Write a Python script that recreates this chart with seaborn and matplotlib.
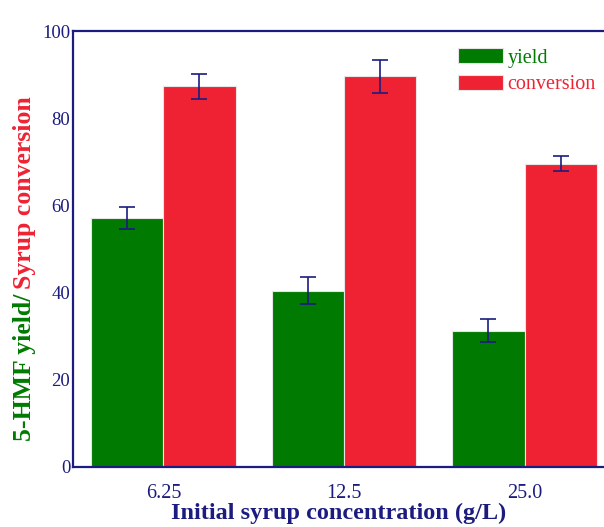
import matplotlib
matplotlib.use("Agg")
import matplotlib.pyplot as plt
import pandas as pd
import seaborn as sns

# values
concentrations = ["6.25", "12.5", "25.0"]
yield_vals = [57.1, 40.4, 31.3]
yield_err = [2.6, 3.1, 2.6]
conversion_vals = [87.3, 89.6, 69.6]
conversion_err = [2.9, 3.7, 1.8]

navy = "#1c1c80"
green = "#007a00"
red = "#ee2233"

df = pd.DataFrame({
    "conc": concentrations * 2,
    "value": yield_vals + conversion_vals,
    "err": yield_err + conversion_err,
    "kind": ["yield"] * 3 + ["conversion"] * 3,
})

sns.set_style("white")
plt.rcParams["font.family"] = ["Liberation Serif", "DejaVu Serif"]

fig = plt.figure(figsize=(6.04, 5.27), dpi=100)
ax = fig.add_axes([0.121, 0.114, 0.879, 0.827])

sns.barplot(data=df, x="conc", y="value", hue="kind", order=concentrations,
            hue_order=["yield", "conversion"], palette=[green, red],
            errorbar=None, width=0.8, saturation=1, edgecolor="#e6e6e6",
            linewidth=0.8, ax=ax)

# error bars at the bar centres
for cont, errs in zip(ax.containers, [yield_err, conversion_err]):
    xs = [p.get_x() + p.get_width() / 2 for p in cont.patches]
    ys = [p.get_height() for p in cont.patches]
    ax.errorbar(xs, ys, yerr=errs, fmt="none", ecolor=navy, elinewidth=1.2,
                capsize=6, capthick=1.2, zorder=5)

ax.set_ylim(0, 100)
ax.set_xlim(-0.5, 2.44)
ax.set_yticks([0, 20, 40, 60, 80, 100])
ax.tick_params(axis="y", colors=navy, labelsize=13.5, length=2, width=1.2, pad=0)
ax.tick_params(axis="x", colors=navy, labelsize=14.5, length=0, pad=12)
for side in ["left", "bottom", "top"]:
    ax.spines[side].set_color(navy)
    ax.spines[side].set_linewidth(1.6)
ax.spines["right"].set_visible(False)

ax.set_xlabel("Initial syrup concentration (g/L)", fontsize=17.5,
              fontweight="bold", color=navy, labelpad=0)
ax.set_ylabel("")

leg = ax.legend(loc="upper right", bbox_to_anchor=(1.0, 0.98), frameon=False,
                fontsize=14.5, handlelength=2.2, handleheight=0.8,
                handletextpad=0.25, labelspacing=0.35, borderaxespad=0.0)
for txt, col in zip(leg.get_texts(), [green, red]):
    txt.set_color(col)

# two-colour y label
t1 = fig.text(0.04, 0.163, "5-HMF yield/", rotation=90, color=green,
              fontsize=18.5, fontweight="bold", ha="center", va="bottom")
fig.canvas.draw()
bb = t1.get_window_extent().transformed(fig.transFigure.inverted())
fig.text(0.04, bb.y1 + 0.009, "Syrup conversion", rotation=90, color=red,
         fontsize=18.5, fontweight="bold", ha="center", va="bottom")

fig.savefig("out.png", dpi=100)
